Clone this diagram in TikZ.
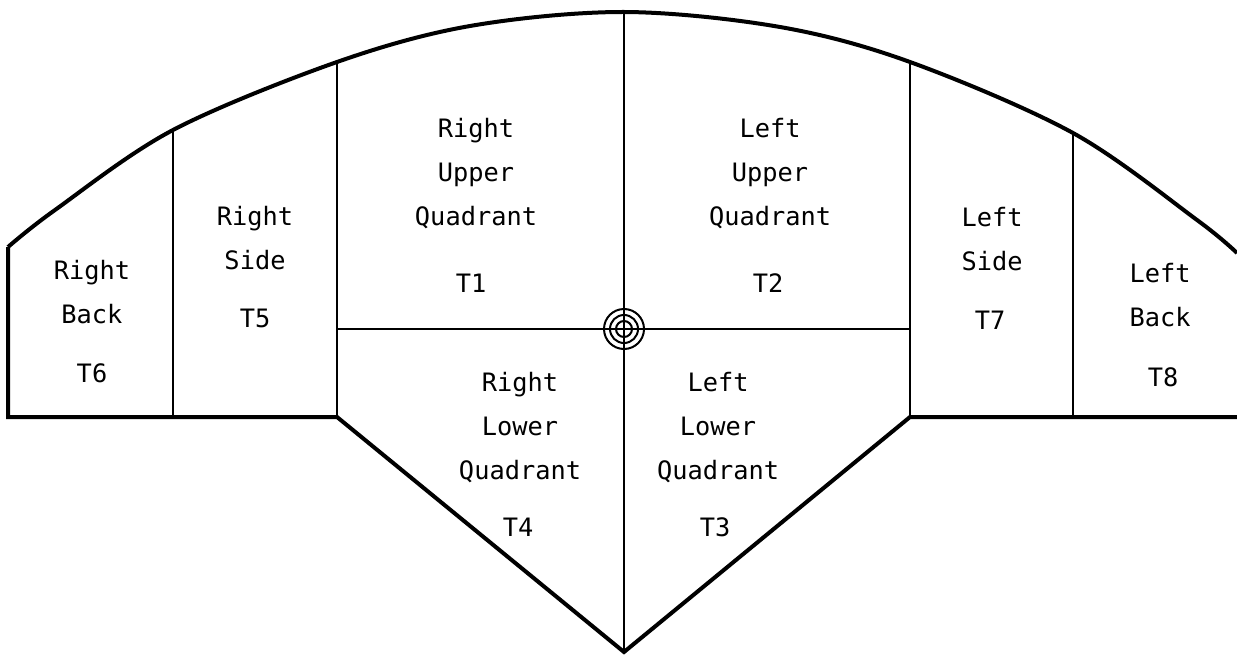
\documentclass[tikz,border=0pt]{standalone}
\usepackage{fontspec}
\setmonofont{DejaVu Sans Mono}
\usepackage{tikz}

\tikzset{
  outer/.style={line width=3pt, line join=miter},
  inner/.style={line width=1.1pt},
  ring/.style={line width=1.5pt},
  zone/.style={font=\ttfamily\fontsize{19}{33}\selectfont, align=center, inner sep=0.75pt},
}

\begin{document}
\begin{tikzpicture}[x=0.75pt,y=0.75pt,yscale=-1,xscale=1]
\useasboundingbox (0,0) rectangle (1237,656);

%Curve Lines [outer arc]
\draw [outer] plot [smooth, tension=0.55] coordinates {(8,247) (55,210) (173,130) (337,62) (470,26) (624,12) (780,27) (910,62) (1073,133) (1197,220) (1237,253)};
%Straight Lines [outer frame]
\draw [outer] (8,247) -- (8,417) -- (337,417) -- (624,652) -- (910,417) -- (1237,417) ;

%Straight Lines [dividers]
\draw [inner] (173,130) -- (173,417) ;
\draw [inner] (337,62) -- (337,417) ;
\draw [inner] (624,12) -- (624,652) ;
\draw [inner] (910,62) -- (910,417) ;
\draw [inner] (1073,133) -- (1073,417) ;
\draw [inner] (337,329) -- (910,329) ;

%Shape: Target
\draw [ring] (624,329) circle [x radius=20, y radius=20] ;
\draw [ring] (624,329) circle [x radius=14, y radius=14] ;
\draw [ring] (624,329) circle [x radius=8, y radius=8] ;

% Text Node
\node [zone] (rb) at (92,292) {Right\\Back};
\node [zone] (t6) at (92,373) {T6};
% Text Node
\node [zone] (rs) at (255,238) {Right\\Side};
\node [zone] (t5) at (255,318) {T5};
% Text Node
\node [zone] (ruq) at (476,174) {Right\\Upper\\Quadrant};
\node [zone] (t1) at (471,283) {T1};
% Text Node
\node [zone] (luq) at (770,174) {Left\\Upper\\Quadrant};
\node [zone] (t2) at (768,283) {T2};
% Text Node
\node [zone] (ls) at (992,239) {Left\\Side};
\node [zone] (t7) at (990,320) {T7};
% Text Node
\node [zone] (lb) at (1160,295) {Left\\Back};
\node [zone] (t8) at (1163,377) {T8};
% Text Node
\node [zone] (rlq) at (520,428) {Right\\Lower\\Quadrant};
\node [zone] (t4) at (518,527) {T4};
% Text Node
\node [zone] (llq) at (718,428) {Left\\Lower\\Quadrant};
\node [zone] (t3) at (715,527) {T3};
\end{tikzpicture}
\end{document}
